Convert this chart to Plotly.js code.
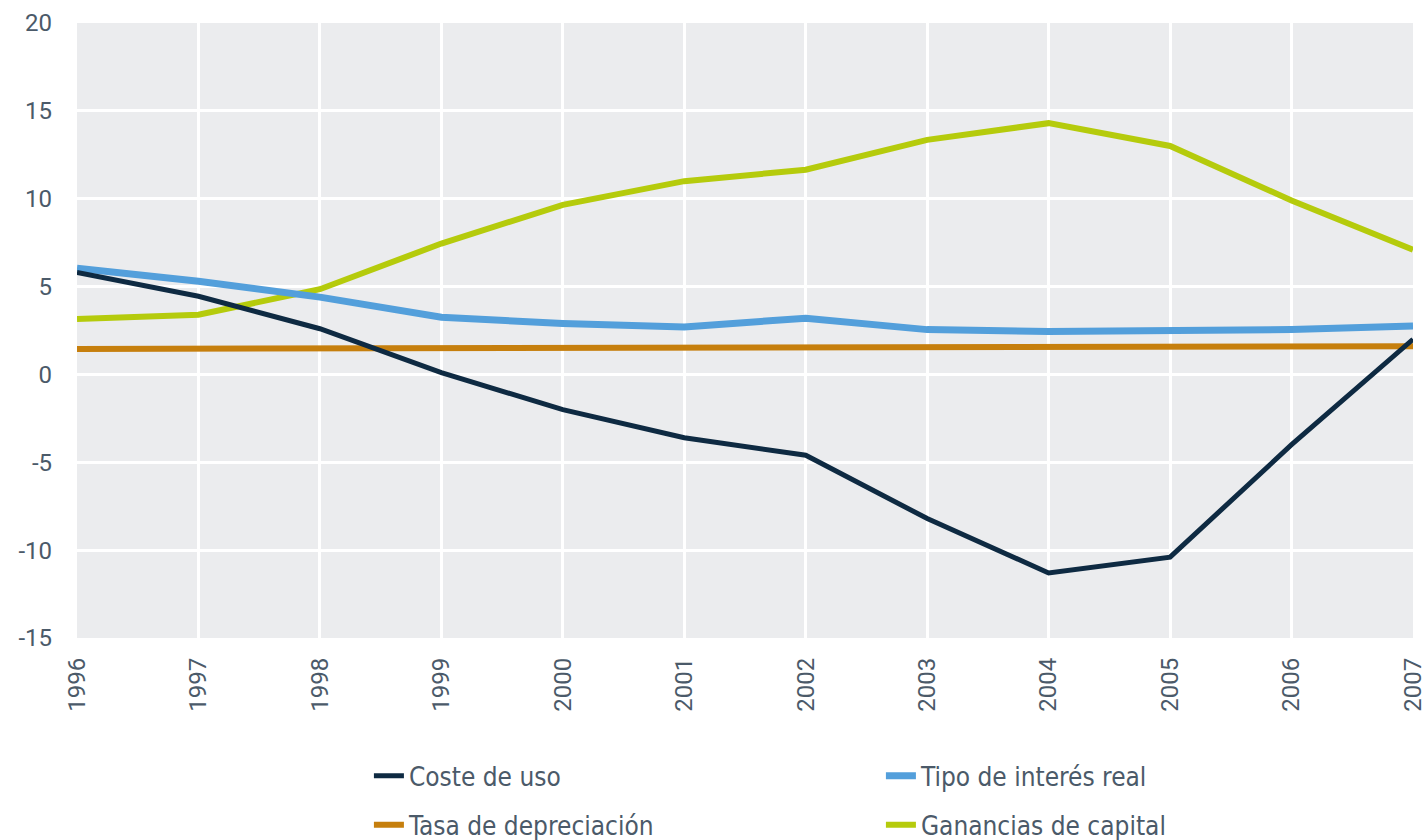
<!DOCTYPE html>
<html>
<head>
<meta charset="utf-8">
<script src="https://cdn.plot.ly/plotly-3.0.1.min.js"></script>
<style>html,body{margin:0;padding:0;background:#fff}#chart{width:1426px;height:840px}</style>
</head>
<body>
<div id="chart"></div>
<script>
const years = [1996,1997,1998,1999,2000,2001,2002,2003,2004,2005,2006,2007];
const costeDeUso = [5.8,4.45,2.6,0.1,-2.0,-3.6,-4.6,-8.2,-11.3,-10.4,-4.0,2.0];
const tipoInteresReal = [6.05,5.3,4.4,3.25,2.9,2.7,3.2,2.55,2.45,2.5,2.55,2.75];
const tasaDepreciacion = [1.45,1.46,1.48,1.5,1.52,1.54,1.55,1.56,1.57,1.58,1.59,1.6];
const gananciasCapital = [3.15,3.4,4.85,7.45,9.65,11.0,11.65,13.35,14.3,13.0,9.9,7.1];
const seriesNames = ["Coste de uso","Tipo de interés real","Tasa de depreciación","Ganancias de capital"];
const yTicks = [-15,-10,-5,0,5,10,15,20];

const txt = "#4b5a69";
const mk = (y, name, color, w, leg) => ({x: years, y: y, name: name, type: "scatter", mode: "lines",
  line: {color: color, width: w}, legend: leg, hoverinfo: "x+y"});
const traces = [
  mk(gananciasCapital, seriesNames[3], "#b5cb0c", 6, "legend2"),
  mk(tipoInteresReal, seriesNames[1], "#539fdb", 7, "legend"),
  mk(tasaDepreciacion, seriesNames[2], "#c67f0d", 6, "legend2"),
  mk(costeDeUso, seriesNames[0], "#0e2a42", 5, "legend")
];
traces[3].legendrank = 1; traces[1].legendrank = 2;
traces[2].legendrank = 1; traces[0].legendrank = 2;

const legFont = {family: "'DejaVu Sans Condensed', 'DejaVu Sans', sans-serif", size: 26, color: txt};
const legBase = {orientation: "h", xanchor: "left", yanchor: "middle",
  entrywidth: 467, entrywidthmode: "pixels", font: legFont, bgcolor: "rgba(0,0,0,0)"};

const layout = {
  width: 1426, height: 840,
  margin: {l: 77, r: 13, t: 23, b: 202, autoexpand: false},
  paper_bgcolor: "#ffffff",
  plot_bgcolor: "#ebecee",
  font: {family: "Roboto, sans-serif", color: txt, size: 24},
  showlegend: true,
  legend: Object.assign({}, legBase, {x: 0.2185, y: -0.224}),
  legend2: Object.assign({}, legBase, {x: 0.2185, y: -0.304}),
  xaxis: {range: [1996, 2007], tickvals: years, ticktext: years.map(String), tickangle: -90,
    showgrid: true, gridcolor: "#ffffff", gridwidth: 3, zeroline: false, showline: false,
    ticks: "", ticklabelstandoff: 14, ticklabeloverflow: "allow", tickfont: {size: 24, color: txt},
    automargin: false, fixedrange: true},
  yaxis: {range: [-15, 20], tickvals: yTicks, ticktext: yTicks.map(String),
    showgrid: true, gridcolor: "#ffffff", gridwidth: 3, zeroline: false, showline: false,
    ticks: "", ticklabelstandoff: 24, ticklabeloverflow: "allow", tickfont: {size: 24, color: txt},
    automargin: false, fixedrange: true},
  shapes: [{type: "line", xref: "paper", x0: 0, x1: 1, yref: "y", y0: 0, y1: 0,
    line: {color: "#58626c", width: 2, dash: "dash"}, layer: "below"}]
};
Plotly.newPlot("chart", traces, layout, {displayModeBar: false});
</script>
</body>
</html>
